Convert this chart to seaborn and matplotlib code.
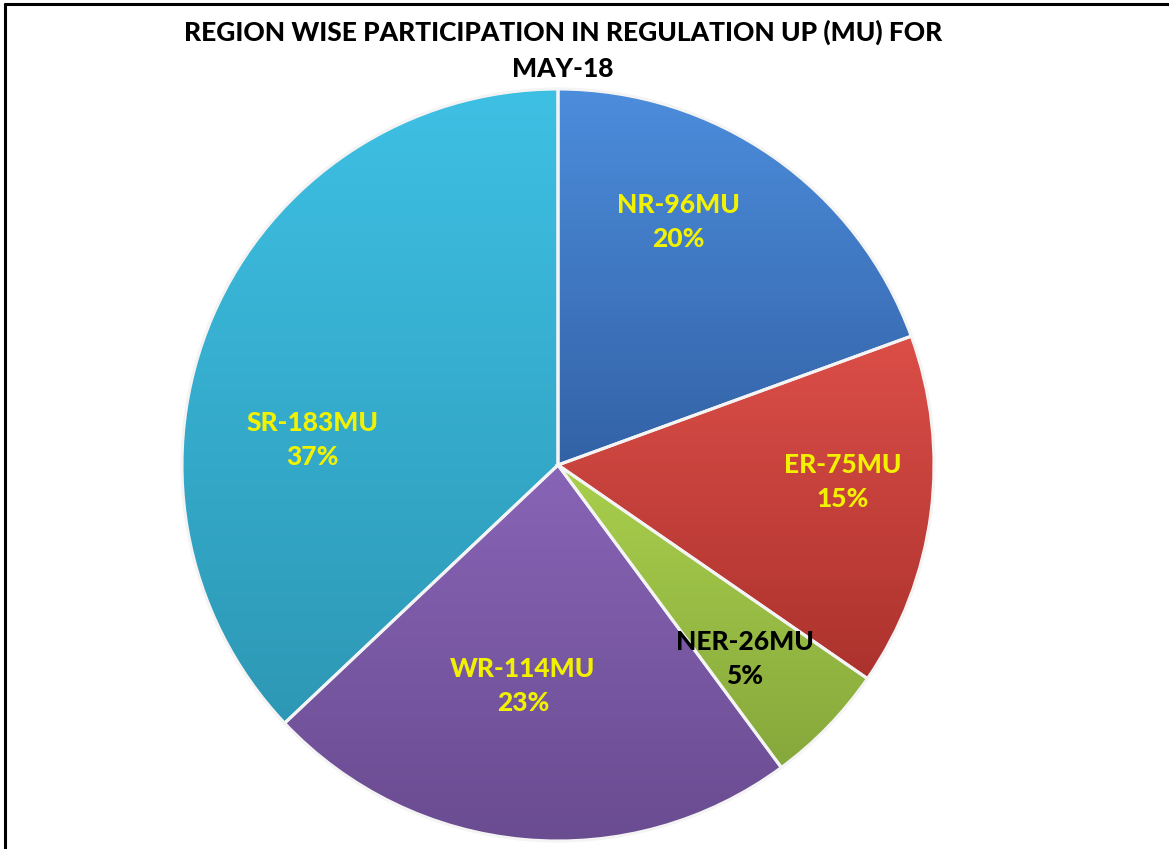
import matplotlib
matplotlib.use("Agg")
import matplotlib.pyplot as plt
from matplotlib.colors import LinearSegmentedColormap
from matplotlib.lines import Line2D
import numpy as np
import seaborn as sns

# data
regions = ["NR", "ER", "NER", "WR", "SR"]
energy_mu = [96, 75, 26, 114, 183]
pct_labels = ["20%", "15%", "5%", "23%", "37%"]

# styling
top_colors = ["#4c8ddc", "#dc4e48", "#a9cf4c", "#8864b6", "#3ec0e4"]
bottom_colors = ["#3362a6", "#ac322d", "#86a83c", "#6a4c91", "#2d98b5"]
text_colors = ["#f2f200", "#f2f200", "black", "#f2f200", "#f2f200"]
# label centres in data units (pie radius = 1)
label_xy = [(0.32, 0.645), (0.758, -0.045), (0.497, -0.515), (-0.093, -0.588), (-0.654, 0.066)]

sns.set_theme(style="white")
plt.rcParams["font.family"] = ["Lato", "DejaVu Sans"]

fig = plt.figure(figsize=(11.69, 8.49), dpi=100)
ax = fig.add_axes([182 / 1169, 8 / 849, 752 / 1169, 752 / 849])

wedges, _ = ax.pie(energy_mu, startangle=90, counterclock=False,
                   colors=top_colors,
                   wedgeprops=dict(edgecolor="#f4f4f4", linewidth=2.2))

for w, c0, c1 in zip(wedges, top_colors, bottom_colors):
    ext = w.get_path().get_extents()
    cmap = LinearSegmentedColormap.from_list("g", [c0, c1])
    grad = np.linspace(0, 1, 256).reshape(-1, 1)
    im = ax.imshow(grad, cmap=cmap, aspect="auto", origin="upper",
                   extent=[ext.x0, ext.x1, ext.y0, ext.y1], zorder=1,
                   interpolation="bicubic")
    im.set_clip_path(w)
    w.set_facecolor("none")
    w.set_zorder(2)

for reg, val, pct, (x, y), tc in zip(regions, energy_mu, pct_labels, label_xy, text_colors):
    ax.text(x, y, f"{reg}-{val}MU\n{pct}", ha="center", va="center",
            fontsize=19, fontweight="black", color=tc, linespacing=1.5, zorder=5)

ax.set_xlim(-1, 1)
ax.set_ylim(-1, 1)
ax.set_aspect("equal")
ax.axis("off")

fig.text(563 / 1169, 1 - 50 / 849,
         "REGION WISE PARTICIPATION IN REGULATION UP (MU) FOR\nMAY-18",
         ha="center", va="center", fontsize=19, fontweight="black",
         color="black", linespacing=1.6)

fig.add_artist(Line2D([5 / 1169, 5 / 1169], [0, 1 - 4 / 849], transform=fig.transFigure,
                      color="black", linewidth=2.2))
fig.add_artist(Line2D([5 / 1169, 1], [1 - 4 / 849, 1 - 4 / 849], transform=fig.transFigure,
                      color="black", linewidth=2.2))

fig.savefig("out.png", dpi=100)
